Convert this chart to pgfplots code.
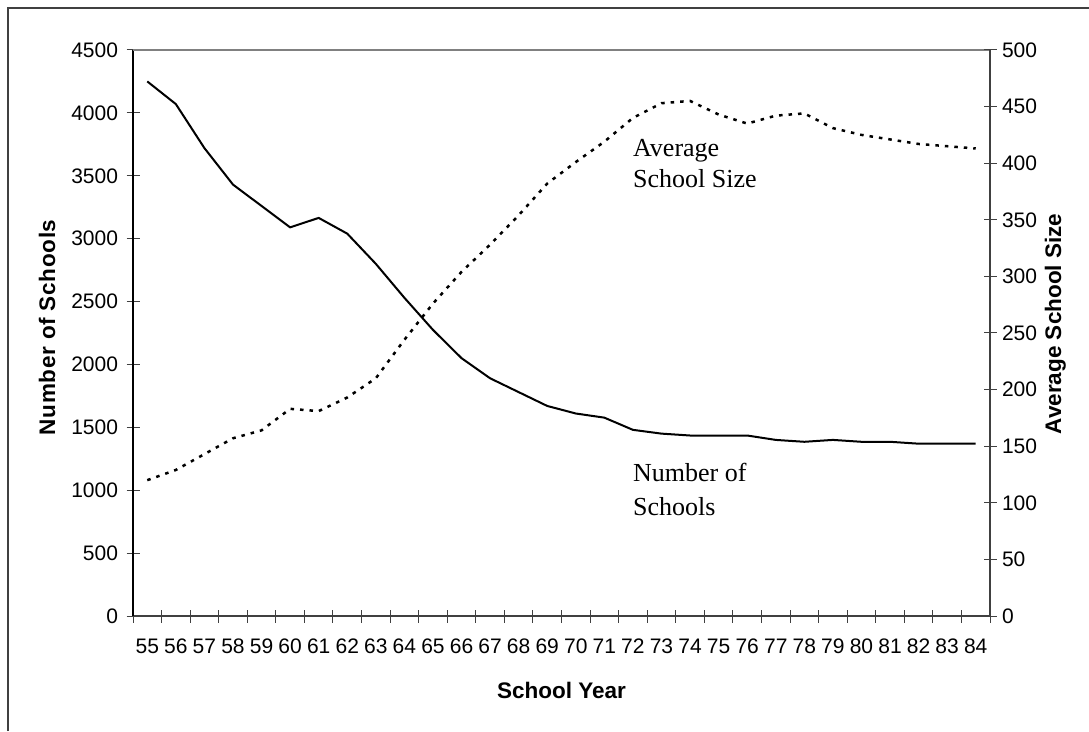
\documentclass[border=0pt]{standalone}
\usepackage{fontspec}
\setmainfont{Liberation Sans}
\newfontfamily\serif{Liberation Serif}
\usepackage{pgfplots}
\usepackage{pgfplotstable}
\pgfplotsset{compat=1.18}
\definecolor{axgray}{HTML}{404040}
\definecolor{topgray}{HTML}{808080}

\pgfplotstableread{
x schools size
55 4250 120
56 4070 129
57 3720 143
58 3430 157
59 3260 164
60 3090 183
61 3165 181
62 3040 193
63 2800 210
64 2530 244
65 2275 276
66 2050 304
67 1890 328
68 1780 354
69 1670 382
70 1610 401
71 1577 419
72 1480 440
73 1450 453
74 1435 455
75 1435 443
76 1435 435
77 1400 442
78 1385 444
79 1400 431
80 1385 425
81 1385 421
82 1370 417
83 1370 415
84 1370 413
}\data

\begin{document}
\begin{tikzpicture}[x=1pt,y=1pt]
\useasboundingbox (0,0) rectangle (1089,731);
\draw[axgray, line width=1.5pt] (8,0) -- (8,723) -- (1089,723);
\begin{axis}[
  at={(133pt,115pt)}, anchor=south west, scale only axis,
  width=857pt, height=566pt,
  xmin=54.5, xmax=84.5, ymin=0, ymax=4500,
  axis x line*=bottom, axis y line*=left,
  x axis line style={axgray, line width=1.5pt, -},
  y axis line style={black, line width=2pt, -},
  xtick={55,...,84}, minor xtick={54.5,55.5,...,84.5},
  ytick={0,500,...,4500},
  tick align=center, major tick length=13pt, minor tick length=13pt,
  major x tick style={draw=none},
  minor x tick style={axgray, line width=1pt},
  major y tick style={axgray, line width=1pt},
  /pgf/number format/1000 sep={},
  /pgf/number format/assume math mode=true,
  tick label style={font=\fontsize{21}{25}\selectfont, text=black},
  yticklabel style={xshift=-5pt},
  xticklabel style={yshift=-13pt},
  xlabel={School Year},
  xlabel style={font=\bfseries\fontsize{22.5}{27}\selectfont, at={(axis description cs:0.5,0)}, anchor=base, yshift=-82.3pt},
  ylabel={\addfontfeature{LetterSpace=3}Number of Schools},
  ylabel style={font=\bfseries\fontsize{22.5}{27}\selectfont, at={(axis description cs:-0.091,0.51)}, anchor=base, rotate=0},
  clip=false,
]
\draw[topgray, line width=1.5pt] (rel axis cs:0,1) -- (rel axis cs:1,1);
\addplot[black, line width=2pt, mark=none] table[x=x, y=schools] {\data};
\node[font=\serif\fontsize{26}{31}\selectfont, anchor=base west, inner sep=0pt] at (axis cs:72.0,3652) {Average};
\node[font=\serif\fontsize{26}{31}\selectfont, anchor=base west, inner sep=0pt] at (axis cs:72.0,3403) {School Size};
\node[font=\serif\fontsize{26}{31}\selectfont, anchor=base west, inner sep=0pt] at (axis cs:72.0,1068) {Number of};
\node[font=\serif\fontsize{26}{31}\selectfont, anchor=base west, inner sep=0pt] at (axis cs:72.0,803) {Schools};
\end{axis}
\begin{axis}[
  at={(133pt,115pt)}, anchor=south west, scale only axis,
  width=857pt, height=566pt,
  xmin=54.5, xmax=84.5, ymin=0, ymax=500,
  axis x line=none, axis y line*=right,
  y axis line style={axgray, line width=1.5pt, -},
  ytick={0,50,...,500},
  tick align=center, major tick length=13pt,
  major y tick style={axgray, line width=1pt},
  /pgf/number format/assume math mode=true,
  tick label style={font=\fontsize{21}{25}\selectfont, text=black},
  yticklabel style={xshift=2pt},
  ylabel={Average School Size},
  ylabel style={font=\bfseries\fontsize{22.5}{27}\selectfont, at={(axis description cs:1.083,0.516)}, anchor=base, rotate=0},
]
\addplot[black, line width=2.5pt, dash pattern=on 3.5pt off 6pt, mark=none] table[x=x, y=size] {\data};
\end{axis}
\end{tikzpicture}
\end{document}
